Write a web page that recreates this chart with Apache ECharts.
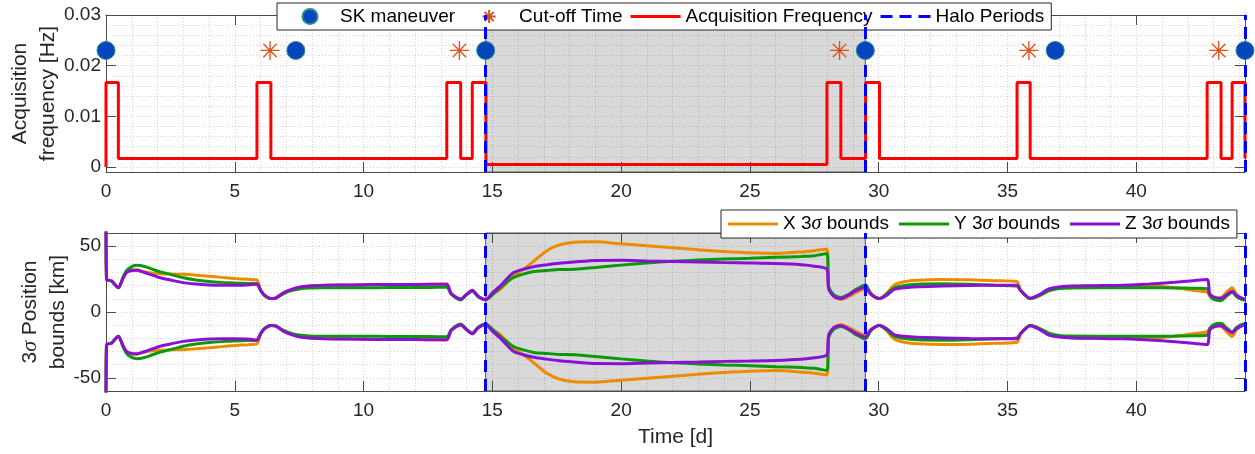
<!DOCTYPE html>
<html>
<head>
<meta charset="utf-8">
<script src="https://cdn.jsdelivr.net/npm/echarts@6/dist/echarts.min.js"></script>
<style>
  html, body { margin: 0; padding: 0; background: #ffffff; }
  #chart { width: 1255px; height: 454px; }
</style>
</head>
<body>
<div id="chart"></div>
<script>
// ---- Acquisition schedule (each frequency holds until the next change time) ----
const acqTimes = [0, 0, 0.48, 5.86, 6.40, 13.23, 13.77, 14.22, 14.75, 27.99, 28.53, 29.49, 30.03, 35.37, 35.88, 42.75, 43.29, 43.72, 44.22];
const acqFreq  = [0, 0.01667, 0.00167, 0.01667, 0.00167, 0.01667, 0.00167, 0.01667, 0.0005, 0.01667, 0.00167, 0.01667, 0.00167, 0.01667, 0.00167, 0.01667, 0.00167, 0.01667, 0.00167];

// ---- Events ----
const skTimes = [0, 7.37, 14.74, 29.48, 36.85, 44.22];
const cutoffTimes = [6.37, 13.72, 28.48, 35.83, 43.20];
const eventLevel = 0.023;               // Hz, height at which the event markers sit
const haloTimes = [14.74, 29.48, 44.22];
const shadedHalo = [14.74, 29.48];       // second halo period is shaded

// ---- 3-sigma position bounds [km] ----
const boundTimes = [0, 0.02, 0.22, 0.48, 0.65, 0.8, 1.0, 1.2, 1.5, 1.8, 2.1, 2.5, 3.0, 3.5, 4.0, 4.5, 5.0, 5.5, 5.86, 6.0, 6.15, 6.4, 6.6, 6.9, 7.2, 7.5, 7.9, 8.5, 9.5, 10.5, 11.5, 12.5, 13.23, 13.4, 13.77, 14.0, 14.22, 14.45, 14.74, 15.0, 15.3, 15.8, 16.2, 16.6, 17.1, 17.6, 18.2, 19.0, 20.0, 21.0, 22.0, 23.0, 24.0, 25.0, 26.0, 27.0, 27.5, 27.99, 28.05, 28.15, 28.3, 28.53, 28.8, 29.1, 29.48, 29.7, 30.03, 30.3, 30.6, 31.0, 31.5, 32.5, 33.5, 34.5, 35.37, 35.5, 35.88, 36.2, 36.6, 37.0, 37.5, 38.5, 39.5, 40.5, 41.5, 42.2, 42.75, 42.85, 43.0, 43.29, 43.5, 43.72, 43.9, 44.1, 44.22];
const xSigma3 = [70, 25, 23.5, 18.4, 25, 30, 32, 32, 30.5, 29.5, 29, 28.8, 28.6, 28, 27.2, 26.3, 25.5, 24.8, 24.2, 17, 13, 10, 10.8, 14.5, 17, 18.7, 19.8, 20.3, 20.6, 20.8, 20.9, 21, 21.2, 14, 9.6, 13.5, 16.6, 12, 9.4, 13.5, 17.1, 27, 32.4, 38.5, 46.4, 51, 53, 53.3, 51.8, 50.3, 48.8, 47.2, 46, 45, 44.5, 45.6, 46.6, 47.8, 20, 14.5, 11.5, 9.5, 11.5, 14.5, 17.5, 13, 10.2, 14, 20.5, 23, 24.2, 24.7, 24.4, 23.8, 23, 17, 10.2, 12.5, 16.5, 18.6, 19.6, 20, 20.2, 20, 18.5, 16.5, 15, 12.5, 10.5, 11, 15, 18.5, 13, 10, 9.2];
const ySigma3 = [70, 25, 23.5, 18.4, 26, 31.5, 34.5, 35.5, 34.5, 32.5, 30.5, 28.6, 26, 24.3, 23.2, 22.5, 22, 21.7, 21.5, 16.5, 12.5, 10.2, 10.6, 14, 16.2, 17.5, 18.2, 18.4, 18.5, 18.5, 18.6, 18.6, 18.8, 13.5, 9.2, 13, 16, 11.5, 9.2, 13, 18.4, 26, 28.8, 30.7, 31.5, 32.2, 32.5, 33.8, 35.6, 37.2, 38.5, 39.4, 40.2, 40.8, 41.5, 42.2, 42.7, 44.5, 20, 15.5, 12.5, 11, 13, 17, 20.5, 14, 10.2, 13.5, 18.4, 20.2, 21.1, 21.4, 21, 20.3, 19.7, 16.5, 10, 12, 16, 17.8, 18.3, 18.4, 18.4, 18.4, 18.3, 18, 17.6, 12.5, 9.5, 8.6, 12, 15, 11.5, 9.5, 9];
const zSigma3 = [70, 25, 23.5, 18.4, 25, 30, 31.5, 31.8, 30, 28, 26, 24.3, 22.3, 21.2, 20.6, 20.3, 20.3, 20.5, 21.3, 16.5, 12.8, 10.2, 10.8, 14.8, 17.2, 18.9, 19.8, 20.3, 20.6, 20.8, 20.9, 21, 21, 14, 9.8, 13.5, 16.6, 12, 9.4, 14.5, 19.7, 29.6, 32.5, 34.4, 35.8, 37, 38, 39.2, 39.3, 38.8, 38.4, 38, 37.5, 37.2, 36.8, 35.9, 34.8, 32.4, 18, 14.2, 11.3, 10.2, 12.5, 16, 19, 13.5, 10.2, 12.5, 17.1, 18.5, 19.2, 19.7, 20.2, 20.4, 20.4, 16.5, 10.4, 12.8, 17.5, 19, 19.7, 20, 20.4, 21.3, 22.6, 23.8, 24.7, 14, 11.5, 10.5, 13, 15.8, 12.5, 10.5, 9.8];

// ---- Axis ticks ----
const dayTicks = [0, 5, 10, 15, 20, 25, 30, 35, 40];
const freqTicks = [0, 0.01, 0.02, 0.03];
const posTicks = [-50, 0, 50];

const dayMax = 44.22;
const freqRange = [-0.001, 0.03];
const posRange = [-60, 60];

// ---- Styling ----
const FONT = 'Liberation Sans, Arial, Helvetica, sans-serif';
const AXIS_COLOR = '#4d4d4d';
const TEXT_COLOR = '#262626';
const GRID_DOT = { color: 'rgba(40,40,40,0.2)', width: 1, type: [1, 2] };
const COLORS = { sk: '#0645bd', skEdge: '#2b8a8a', cut: '#d95319', acq: '#ff0000', halo: '#0000ff', x: '#ed8b00', y: '#0a990a', z: '#8a10d6' };
const HALO_DASH = [12, 7];
const ASTERISK = 'path://M10,0 L10,20 M0,10 L20,10 M2.93,2.93 L17.07,17.07 M2.93,17.07 L17.07,2.93';
// legend glyphs, each spanning the full 50x15 legend slot so the mark sits centred
const SLOT = 'M0,0 L0,0 M50,15 L50,15 ';
const SOLID_ICON = 'path://M0,0 L50,0 L50,3 L0,3 Z';
const DASH_ICON = 'path://M0,0 L12,0 L12,3 L0,3 Z M19,0 L31,0 L31,3 L19,3 Z M38,0 L50,0 L50,3 L38,3 Z';
const DOT_ICON = 'path://' + SLOT + 'M17.5,7.5 A7.5,7.5 0 1,1 32.5,7.5 A7.5,7.5 0 1,1 17.5,7.5 Z';
const STAR_ICON = 'path://' + SLOT + 'M25,1 L25,14 M18.5,7.5 L31.5,7.5 M20.4,2.9 L29.6,12.1 M20.4,12.1 L29.6,2.9';

const grids = [
  { left: 106, right: 10, top: 15, height: 157, outerBoundsMode: 'none', containLabel: false },
  { left: 106, right: 10, top: 233, height: 158, outerBoundsMode: 'none', containLabel: false }
];

function pairs(xs, ys) { return xs.map((x, i) => [x, ys[i]]); }
function negate(ys) { return ys.map(v => -v); }

const hiddenParts = { axisLine: { show: false }, axisTick: { show: false }, axisLabel: { show: false } };

function helperSeries(gi) {
  const xi = gi * 3, yi = gi * 3;
  return [
    {
      type: 'line', xAxisIndex: xi, yAxisIndex: yi, data: [], z: 0, silent: true,
      markArea: {
        silent: true, z: 0,
        itemStyle: { color: '#d9d9d9', borderColor: '#555555', borderWidth: 1 },
        data: [[{ xAxis: shadedHalo[0] }, { xAxis: shadedHalo[1] }]]
      }
    },
    {
      name: 'Halo Periods', type: 'line', xAxisIndex: xi, yAxisIndex: yi, data: [], z: 6,
      symbol: 'none',
      itemStyle: { color: COLORS.halo },
      lineStyle: { color: COLORS.halo, width: 3, type: HALO_DASH },
      markLine: {
        silent: true, z: 6, symbol: 'none', animation: false,
        label: { show: false },
        lineStyle: { color: COLORS.halo, width: 3, type: HALO_DASH },
        data: haloTimes.map(t => ({ xAxis: t }))
      }
    }
  ];
}

function boundSeries(name, color, sig) {
  const common = {
    name, type: 'line', xAxisIndex: 3, yAxisIndex: 3, symbol: 'none', z: 3,
    itemStyle: { color }, lineStyle: { color, width: 3 }, smooth: 0.25, clip: true
  };
  return [
    Object.assign({}, common, { data: pairs(boundTimes, sig) }),
    Object.assign({}, common, { data: pairs(boundTimes, negate(sig)) })
  ];
}

function xAxes(gi, withName) {
  const base = {
    gridIndex: gi, type: 'value', min: 0, max: dayMax,
    axisLine: { show: true, onZero: false, lineStyle: { color: AXIS_COLOR, width: 1 } },
    axisTick: { show: true, inside: true, length: 10, customValues: dayTicks, lineStyle: { color: AXIS_COLOR } },
    splitLine: { show: false }
  };
  const bottom = Object.assign({}, base, {
    position: 'bottom',
    axisLabel: { show: true, customValues: dayTicks, margin: 10, fontFamily: FONT, fontSize: 19, color: TEXT_COLOR }
  });
  if (withName) Object.assign(bottom, {
    name: 'Time [d]', nameLocation: 'middle', nameGap: 36, nameMoveOverlap: false,
    nameTextStyle: { fontFamily: FONT, fontSize: 21, color: TEXT_COLOR }
  });
  const top = Object.assign({}, base, { position: 'top', axisLabel: { show: false } });
  // one dotted grid line per day
  const dayGrid = Object.assign({ gridIndex: gi, type: 'value', min: 0, max: dayMax, interval: 1, z: 1,
    splitLine: { show: true, lineStyle: GRID_DOT } }, hiddenParts);
  return [bottom, top, dayGrid];
}

function yAxes(gi, range, ticks, name, gap, fmt, gridAxis) {
  const base = {
    gridIndex: gi, type: 'value', min: range[0], max: range[1],
    axisLine: { show: true, onZero: false, lineStyle: { color: AXIS_COLOR, width: 1 } },
    axisTick: { show: true, inside: true, length: 10, customValues: ticks, lineStyle: { color: AXIS_COLOR } },
    splitLine: { show: false }
  };
  const left = Object.assign({}, base, {
    position: 'left',
    axisLabel: { show: true, customValues: ticks, margin: 5, fontFamily: FONT, fontSize: 19, color: TEXT_COLOR, formatter: fmt },
    name, nameLocation: 'middle', nameGap: gap, nameMoveOverlap: false,
    nameTextStyle: {
      fontFamily: FONT, fontSize: 21, color: TEXT_COLOR, lineHeight: 28, align: 'center',
      rich: {
        n: { fontFamily: FONT, fontSize: 21, color: TEXT_COLOR, lineHeight: 28 },
        i: { fontFamily: 'Liberation Serif, DejaVu Serif, serif', fontStyle: 'italic', fontSize: 22, color: TEXT_COLOR, lineHeight: 28 }
      }
    }
  });
  const right = Object.assign({}, base, { position: 'right', axisLabel: { show: false } });
  const grid = Object.assign({ gridIndex: gi, type: 'value', z: 1, position: 'left',
    splitLine: { show: true, lineStyle: GRID_DOT } }, gridAxis, hiddenParts);
  return [left, right, grid];
}

const sigmaRich = {
  n: { fontFamily: FONT, fontSize: 19, color: '#000000' },
  i: { fontFamily: 'Liberation Serif, DejaVu Serif, serif', fontStyle: 'italic', fontSize: 20, color: '#000000' }
};

const option = {
  animation: false,
  backgroundColor: '#ffffff',
  grid: grids,
  xAxis: [...xAxes(0, false), ...xAxes(1, true)],
  yAxis: [
    // frequency grid: counted down from the 0.03 top edge in 0.002 steps
    ...yAxes(0, freqRange, freqTicks, 'Acquisition\nfrequency [Hz]', 44, v => String(+v.toFixed(3)),
      { min: 0, max: freqRange[1] - freqRange[0], interval: 0.002, inverse: true }),
    ...yAxes(1, posRange, posTicks, '{n|3}{i|σ}{n| Position}\n{n|bounds [km]}', 34, v => String(v),
      { min: posRange[0], max: posRange[1], interval: 10 })
  ],
  legend: [
    {
      data: [
        { name: 'SK maneuver', icon: DOT_ICON },
        { name: 'Cut-off Time', icon: STAR_ICON },
        { name: 'Acquisition Frequency', icon: SOLID_ICON },
        { name: 'Halo Periods', icon: DASH_ICON }
      ],
      left: 277, top: 3, orient: 'horizontal',
      itemWidth: 50, itemHeight: 15, itemGap: 8, padding: [4, 7],
      backgroundColor: '#ffffff', borderColor: '#262626', borderWidth: 1,
      textStyle: { fontFamily: FONT, fontSize: 19, color: '#000000' },
      selectedMode: false
    },
    {
      data: [
        { name: 'X 3σ bounds', icon: SOLID_ICON },
        { name: 'Y 3σ bounds', icon: SOLID_ICON },
        { name: 'Z 3σ bounds', icon: SOLID_ICON }
      ],
      left: 721, top: 210, orient: 'horizontal',
      itemWidth: 50, itemHeight: 15, itemGap: 10, padding: [4, 7],
      backgroundColor: '#ffffff', borderColor: '#262626', borderWidth: 1,
      textStyle: { fontFamily: FONT, fontSize: 19, color: '#000000', rich: sigmaRich },
      formatter: name => {
        const parts = name.split('σ');
        return '{n|' + parts[0] + '}{i|σ}{n|' + parts[1] + '}';
      },
      selectedMode: false
    }
  ],
  series: [
    // top panel
    ...helperSeries(0),
    {
      name: 'Acquisition Frequency', type: 'line', xAxisIndex: 0, yAxisIndex: 0, step: 'end',
      symbol: 'none', z: 4,
      itemStyle: { color: COLORS.acq }, lineStyle: { color: COLORS.acq, width: 3 },
      data: pairs(acqTimes, acqFreq)
    },
    {
      name: 'SK maneuver', type: 'scatter', xAxisIndex: 0, yAxisIndex: 0, z: 8, clip: false,
      symbol: 'circle', symbolSize: 18,
      itemStyle: { color: COLORS.sk, borderColor: COLORS.skEdge, borderWidth: 1, opacity: 1 },
      data: skTimes.map(t => [t, eventLevel])
    },
    {
      name: 'Cut-off Time', type: 'scatter', xAxisIndex: 0, yAxisIndex: 0, z: 8, clip: false,
      symbol: ASTERISK, symbolSize: 19,
      itemStyle: { color: 'rgba(0,0,0,0)', borderColor: COLORS.cut, borderWidth: 1.3, opacity: 1 },
      data: cutoffTimes.map(t => [t, eventLevel])
    },
    // bottom panel
    ...helperSeries(1),
    ...boundSeries('X 3σ bounds', COLORS.x, xSigma3),
    ...boundSeries('Y 3σ bounds', COLORS.y, ySigma3),
    ...boundSeries('Z 3σ bounds', COLORS.z, zSigma3)
  ]
};

const chart = echarts.init(document.getElementById('chart'), null, { renderer: 'canvas' });
chart.setOption(option);
</script>
</body>
</html>
